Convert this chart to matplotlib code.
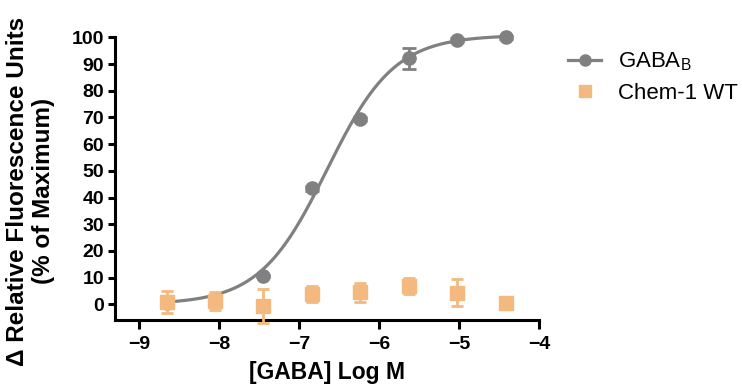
import numpy as np
import matplotlib
matplotlib.use('Agg')
import matplotlib.pyplot as plt

plt.rcParams['font.family'] = ['Liberation Sans', 'DejaVu Sans']
plt.rcParams['mathtext.fontset'] = 'custom'
plt.rcParams['mathtext.rm'] = 'Liberation Sans'

# log10 of GABA concentration
log_dose = [-8.65, -8.05, -7.45, -6.84, -6.24, -5.635, -5.03, -4.42]

# GABA_B response (% of max) and SEM
gaba_b = [0.5, 1.5, 10.6, 43.4, 69.3, 92.1, 99.0, 100.0]
gaba_b_err = [0.5, 0.5, 0.5, 0.8, 0.8, 3.8, 0.8, 0.5]

# Chem-1 WT response and SEM
chem1 = [0.9, 1.2, -0.6, 3.8, 4.5, 6.8, 4.4, 0.4]
chem1_err = [4.2, 3.5, 6.3, 3.1, 3.6, 2.9, 5.0, 0.5]

# sigmoid fit parameters (bottom, top, logEC50, hill)
fit_bottom, fit_top, fit_ec50, fit_hill = 0.0, 100.8, -6.655, 1.03

gray = '#808080'
orange = '#F3B97E'

fig = plt.figure(figsize=(7.42, 3.85), dpi=100)
ax = fig.add_axes([0.155, 0.170, 0.5718, 0.733])

xx = np.linspace(log_dose[0], log_dose[-1], 300)
yy = fit_bottom + (fit_top - fit_bottom)/(1 + 10**((fit_ec50 - xx)*fit_hill))
ax.plot(xx, yy, color=gray, lw=2.3, zorder=2, clip_on=False)

ax.errorbar(log_dose, gaba_b, yerr=gaba_b_err, fmt='o', color=gray, ms=9.5,
            elinewidth=2, capsize=4.7, capthick=2, zorder=3, clip_on=False)
ax.errorbar(log_dose, chem1, yerr=chem1_err, fmt='s', color=orange, ms=9.5,
            elinewidth=2, capsize=4.5, capthick=2, zorder=4, clip_on=False)

ax.set_xlim(-9.306, -4)
ax.set_ylim(-5.7, 100)
ax.set_xticks([-9, -8, -7, -6, -5, -4])
ax.set_yticks(np.arange(0, 101, 10))
for s in ['top', 'right']:
    ax.spines[s].set_visible(False)
for s in ['left', 'bottom']:
    ax.spines[s].set_linewidth(2.2)
ax.tick_params(axis='y', width=2.2, length=5, labelsize=14, pad=3)
ax.tick_params(axis='x', width=2.2, length=6.5, labelsize=14, pad=5)
for lab in ax.get_xticklabels() + ax.get_yticklabels():
    lab.set_fontweight('bold')

ax.set_xlabel('[GABA] Log M', fontsize=16.5, fontweight='bold')
ax.xaxis.set_label_coords(0.5, -0.148)
ax.set_ylabel('\u0394 Relative Fluorescence Units\n(% of Maximum)', fontsize=17.5,
              fontweight='bold', linespacing=1.15)
ax.yaxis.set_label_coords(-0.141, 0.455)

h1 = plt.Line2D([], [], color=gray, lw=2.3, marker='o', ms=8)
h2 = plt.Line2D([], [], color=orange, lw=0, marker='s', ms=8.5)
fig.legend([h1, h2], ['GABA$_\\mathrm{B}$', 'Chem-1 WT'], loc='upper left',
           bbox_to_anchor=(0.7655, 0.869), frameon=False, fontsize=16,
           handlelength=1.5, labelspacing=0.45, handletextpad=0.75,
           borderaxespad=0, borderpad=0)

fig.savefig('out.png', dpi=100)
